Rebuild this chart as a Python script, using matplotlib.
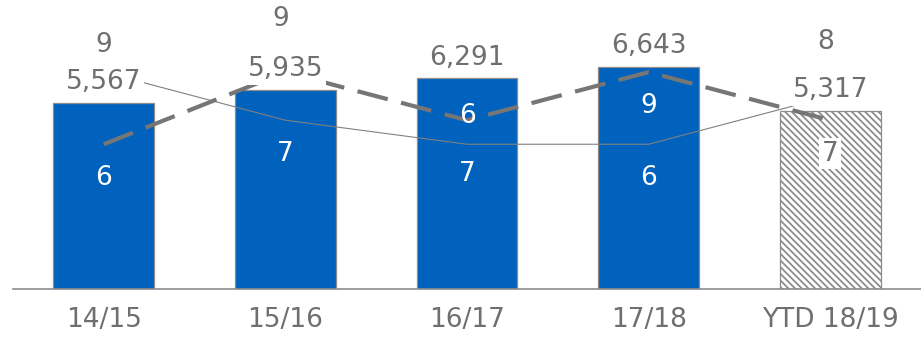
import matplotlib
matplotlib.use("Agg")
import matplotlib.pyplot as plt

# Data
seasons = ["14/15", "15/16", "16/17", "17/18", "YTD 18/19"]
volumes = [5567, 5935, 6291, 6643, 5317]
score_a = [9, 7, 6, 6, 8]      # thin line
score_b = [6, 9, 7, 9, 7]      # dashed line

BLUE = "#0062BD"
GREY_TXT = "#6f6f6f"
LINE_GREY = "#767676"
EDGE = "#8c8c8c"

plt.rcParams["font.family"] = ["DejaVu Sans"]
plt.rcParams["hatch.linewidth"] = 1.3
plt.rcParams["hatch.color"] = "black"
FS = 19

fig = plt.figure(figsize=(9.21, 3.37), dpi=100)
ax = fig.add_axes([13 / 921, (337 - 288.5) / 337, 1 - 13 / 921, 288.5 / 337])
x = list(range(len(seasons)))

colors = [BLUE] * 4 + ["white"]
bars = ax.bar(x, volumes, width=0.556, color=colors, edgecolor=EDGE, linewidth=0.9, zorder=2)
bars[-1].set_hatch("\\" * 5)

ax.set_xlim(-0.5, 4.5)
ax.set_ylim(0, 8640)
ax.set_yticks([])
ax.set_xticks(x)
ax.set_xticklabels(seasons, fontsize=FS, color=GREY_TXT)
ax.tick_params(axis="x", length=0, pad=13)
for s in ("top", "left", "right"):
    ax.spines[s].set_visible(False)
ax.spines["bottom"].set_color(EDGE)
ax.spines["bottom"].set_linewidth(1.2)

ax2 = ax.twinx()
ax2.set_ylim(0, 12)
ax2.set_yticks([])
for s in ("top", "left", "right", "bottom"):
    ax2.spines[s].set_visible(False)

ax2.plot(x, score_a, color="#808080", linewidth=0.8, zorder=2)
ax2.plot(x, score_b, color=LINE_GREY, linewidth=3.0, dashes=(7.5, 3.3),
         dash_capstyle="butt", zorder=2)

white_box = dict(boxstyle="square,pad=0.1", facecolor="white", edgecolor="none")

# Bar value labels
for xi, v in zip(x, volumes):
    ax2.annotate(f"{v:,}", xy=(xi, v), xycoords=ax.transData,
                 xytext=(0, 15), textcoords="offset points",
                 ha="center", va="center", fontsize=FS, color=GREY_TXT,
                 bbox=white_box, zorder=5)

# Line value labels (offsets in points, colours by background)
a_off = [(0, 19.5), (0, -24), (0, 20), (0, -24), (-3, 39)]
a_col = [GREY_TXT, "white", "white", "white", GREY_TXT]
b_off = [(0, -24), (-3.5, 38), (0, -39), (0, -24.5), (0, -24)]
b_col = ["white", GREY_TXT, "white", "white", GREY_TXT]
b_box = [None, None, None, None, white_box]

for xi, v, off, c in zip(x, score_a, a_off, a_col):
    ax2.annotate(f"{v}", xy=(xi, v), xytext=off, textcoords="offset points",
                 ha="center", va="center", fontsize=FS, color=c, zorder=5)
for xi, v, off, c, bb in zip(x, score_b, b_off, b_col, b_box):
    ax2.annotate(f"{v}", xy=(xi, v), xytext=off, textcoords="offset points",
                 ha="center", va="center", fontsize=FS, color=c, bbox=bb, zorder=5)

fig.savefig("out.png", dpi=100)
